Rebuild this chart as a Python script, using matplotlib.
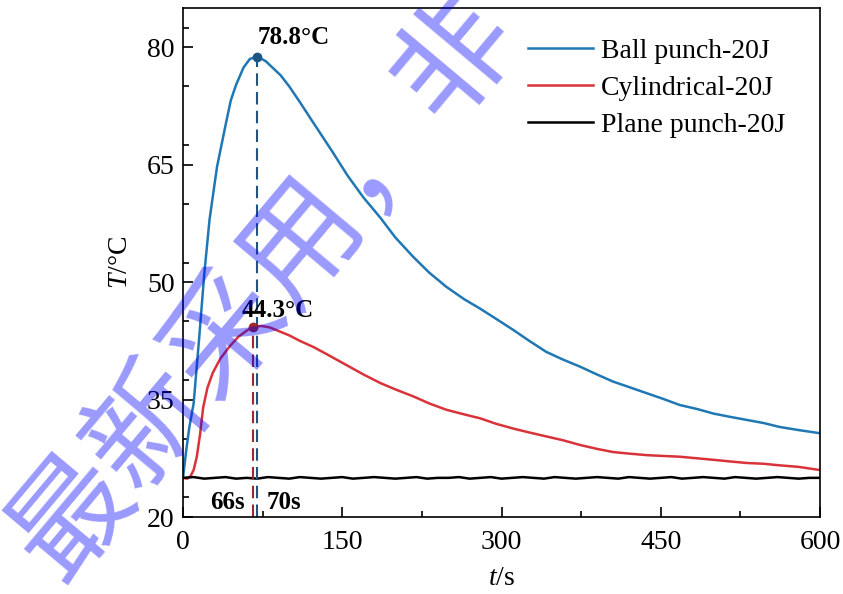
import matplotlib.pyplot as plt
import numpy as np
from matplotlib.ticker import MultipleLocator

plt.rcParams['font.family'] = ['Liberation Serif']
plt.rcParams['mathtext.fontset'] = 'custom'
plt.rcParams['mathtext.rm'] = 'Liberation Serif'
plt.rcParams['mathtext.it'] = 'Liberation Serif:italic'

ball_t = [0, 3, 6, 10, 15, 20, 25, 32, 40, 45, 50, 57, 63, 70, 78, 85, 92, 100, 110, 123,
          140, 155, 170, 186, 200, 217, 232, 248, 265, 280, 295, 311, 325, 342, 358, 374,
          390, 405, 420, 437, 452, 468, 484, 500, 515, 531, 547, 562, 580, 600]
ball_T = [25.0, 28.5, 31.5, 34.5, 42.5, 51.0, 58.0, 64.7, 70.0, 73.2, 75.2, 77.4, 78.5, 78.8,
          78.2, 77.3, 76.4, 75.0, 73.0, 70.3, 66.8, 63.6, 60.8, 58.2, 55.7, 53.2, 51.2, 49.4,
          47.8, 46.6, 45.3, 43.9, 42.6, 41.1, 40.1, 39.2, 38.2, 37.3, 36.6, 35.8, 35.1, 34.3,
          33.8, 33.2, 32.8, 32.4, 32.0, 31.5, 31.1, 30.7]

cyl_t = [0, 4, 7, 10, 13, 16, 19, 23, 28, 35, 44, 52, 60, 66, 74, 82, 91, 100, 110, 123,
         138, 154, 170, 186, 200, 217, 232, 248, 265, 280, 295, 311, 326, 342, 358, 374,
         390, 405, 420, 437, 452, 468, 484, 500, 515, 531, 547, 562, 580, 600]
cyl_T = [25.0, 24.9, 25.2, 26.0, 27.7, 30.5, 34.0, 36.5, 38.4, 40.2, 41.8, 43.0, 43.8, 44.3,
         44.4, 44.2, 43.7, 43.2, 42.5, 41.7, 40.6, 39.4, 38.2, 37.1, 36.3, 35.4, 34.5, 33.7,
         33.1, 32.6, 31.9, 31.3, 30.8, 30.3, 29.8, 29.2, 28.7, 28.3, 28.1, 27.9, 27.8, 27.7,
         27.5, 27.3, 27.1, 26.9, 26.8, 26.6, 26.4, 26.0]

plane_t = list(range(0, 601, 10))
plane_T = [25.0, 25.1, 24.9, 25.0, 25.1, 24.9, 25.0, 24.9, 25.1, 25.0,
           24.9, 25.1, 25.0, 24.9, 25.0, 25.1, 24.9, 25.0, 25.1, 25.0,
           24.9, 25.0, 25.1, 24.9, 25.0, 25.0, 25.1, 24.9, 25.0, 25.1,
           24.9, 25.0, 25.1, 25.0, 24.9, 25.1, 25.0, 24.9, 25.0, 25.1,
           25.0, 24.9, 25.1, 25.0, 24.9, 25.0, 25.1, 24.9, 25.0, 25.1,
           25.0, 24.9, 25.1, 25.0, 24.9, 25.0, 25.1, 25.0, 24.9, 25.0, 25.0]

ball_peak = (70, 78.8)
cyl_peak = (66, 44.3)
y_ticks = [20, 35, 50, 65, 80]
x_ticks = [0, 150, 300, 450, 600]

fig = plt.figure(figsize=(8.43, 5.94), dpi=100)
ax = fig.add_axes([0.2171, 0.1296, 0.7556, 0.8569])

ax.plot(ball_t, ball_T, color='#1f77b4', lw=1.8, label='Ball punch-20J')
ax.plot(cyl_t, cyl_T, color='#d9333a', lw=1.8, label='Cylindrical-20J')
ax.plot(plane_t, plane_T, color='black', lw=1.8, label='Plane punch-20J')

ax.plot([ball_peak[0]] * 2, [20, ball_peak[1]], color='#1f5585', lw=1.5, ls=(0, (6, 3)))
ax.plot([cyl_peak[0]] * 2, [20, cyl_peak[1]], color='#a3262c', lw=1.5, ls=(0, (6, 3)))
ax.plot(*ball_peak, 'o', color='#1f5585', ms=6)
ax.plot(*cyl_peak, 'o', color='#a3262c', ms=6)

ax.text(ball_peak[0], 81.2, '78.8°C', fontsize=18, fontweight='bold', va='center', ha='left')
ax.text(55, 46.4, '44.3°C', fontsize=18, fontweight='bold', va='center', ha='left')
ax.text(58, 21.9, '66s', fontsize=18, fontweight='bold', va='center', ha='right')
ax.text(79, 21.9, '70s', fontsize=18, fontweight='bold', va='center', ha='left')

ax.set_xlim(0, 600)
ax.set_ylim(20, 85)
ax.set_xticks(x_ticks)
ax.set_yticks(y_ticks)
ax.xaxis.set_minor_locator(MultipleLocator(75))
ax.yaxis.set_minor_locator(MultipleLocator(7.5))
ax.tick_params(which='both', direction='in', labelsize=20, width=1.2)
ax.tick_params(which='major', length=7)
ax.tick_params(axis='x', which='major', pad=9)
ax.tick_params(axis='y', which='major', pad=6)
ax.tick_params(which='minor', length=4)
for s in ax.spines.values():
    s.set_linewidth(1.2)

ax.set_xlabel('$t$/s', fontsize=20, labelpad=8)
ax.set_ylabel('$T$/°C', fontsize=20, labelpad=10)

ax.legend(loc='upper right', bbox_to_anchor=(0.985, 0.99), frameon=False, fontsize=20,
          handlelength=2.35, handletextpad=0.3, labelspacing=0.42)

# watermark
fig.text(264 / 843, 1 - 287 / 594, '最新采用，非', fontsize=86, color=(0, 0, 1), alpha=0.4,
         rotation=50, ha='center', va='center', rotation_mode='anchor',
         family=['Noto Sans CJK SC', 'DejaVu Sans'])

fig.savefig('out.png', dpi=100)
